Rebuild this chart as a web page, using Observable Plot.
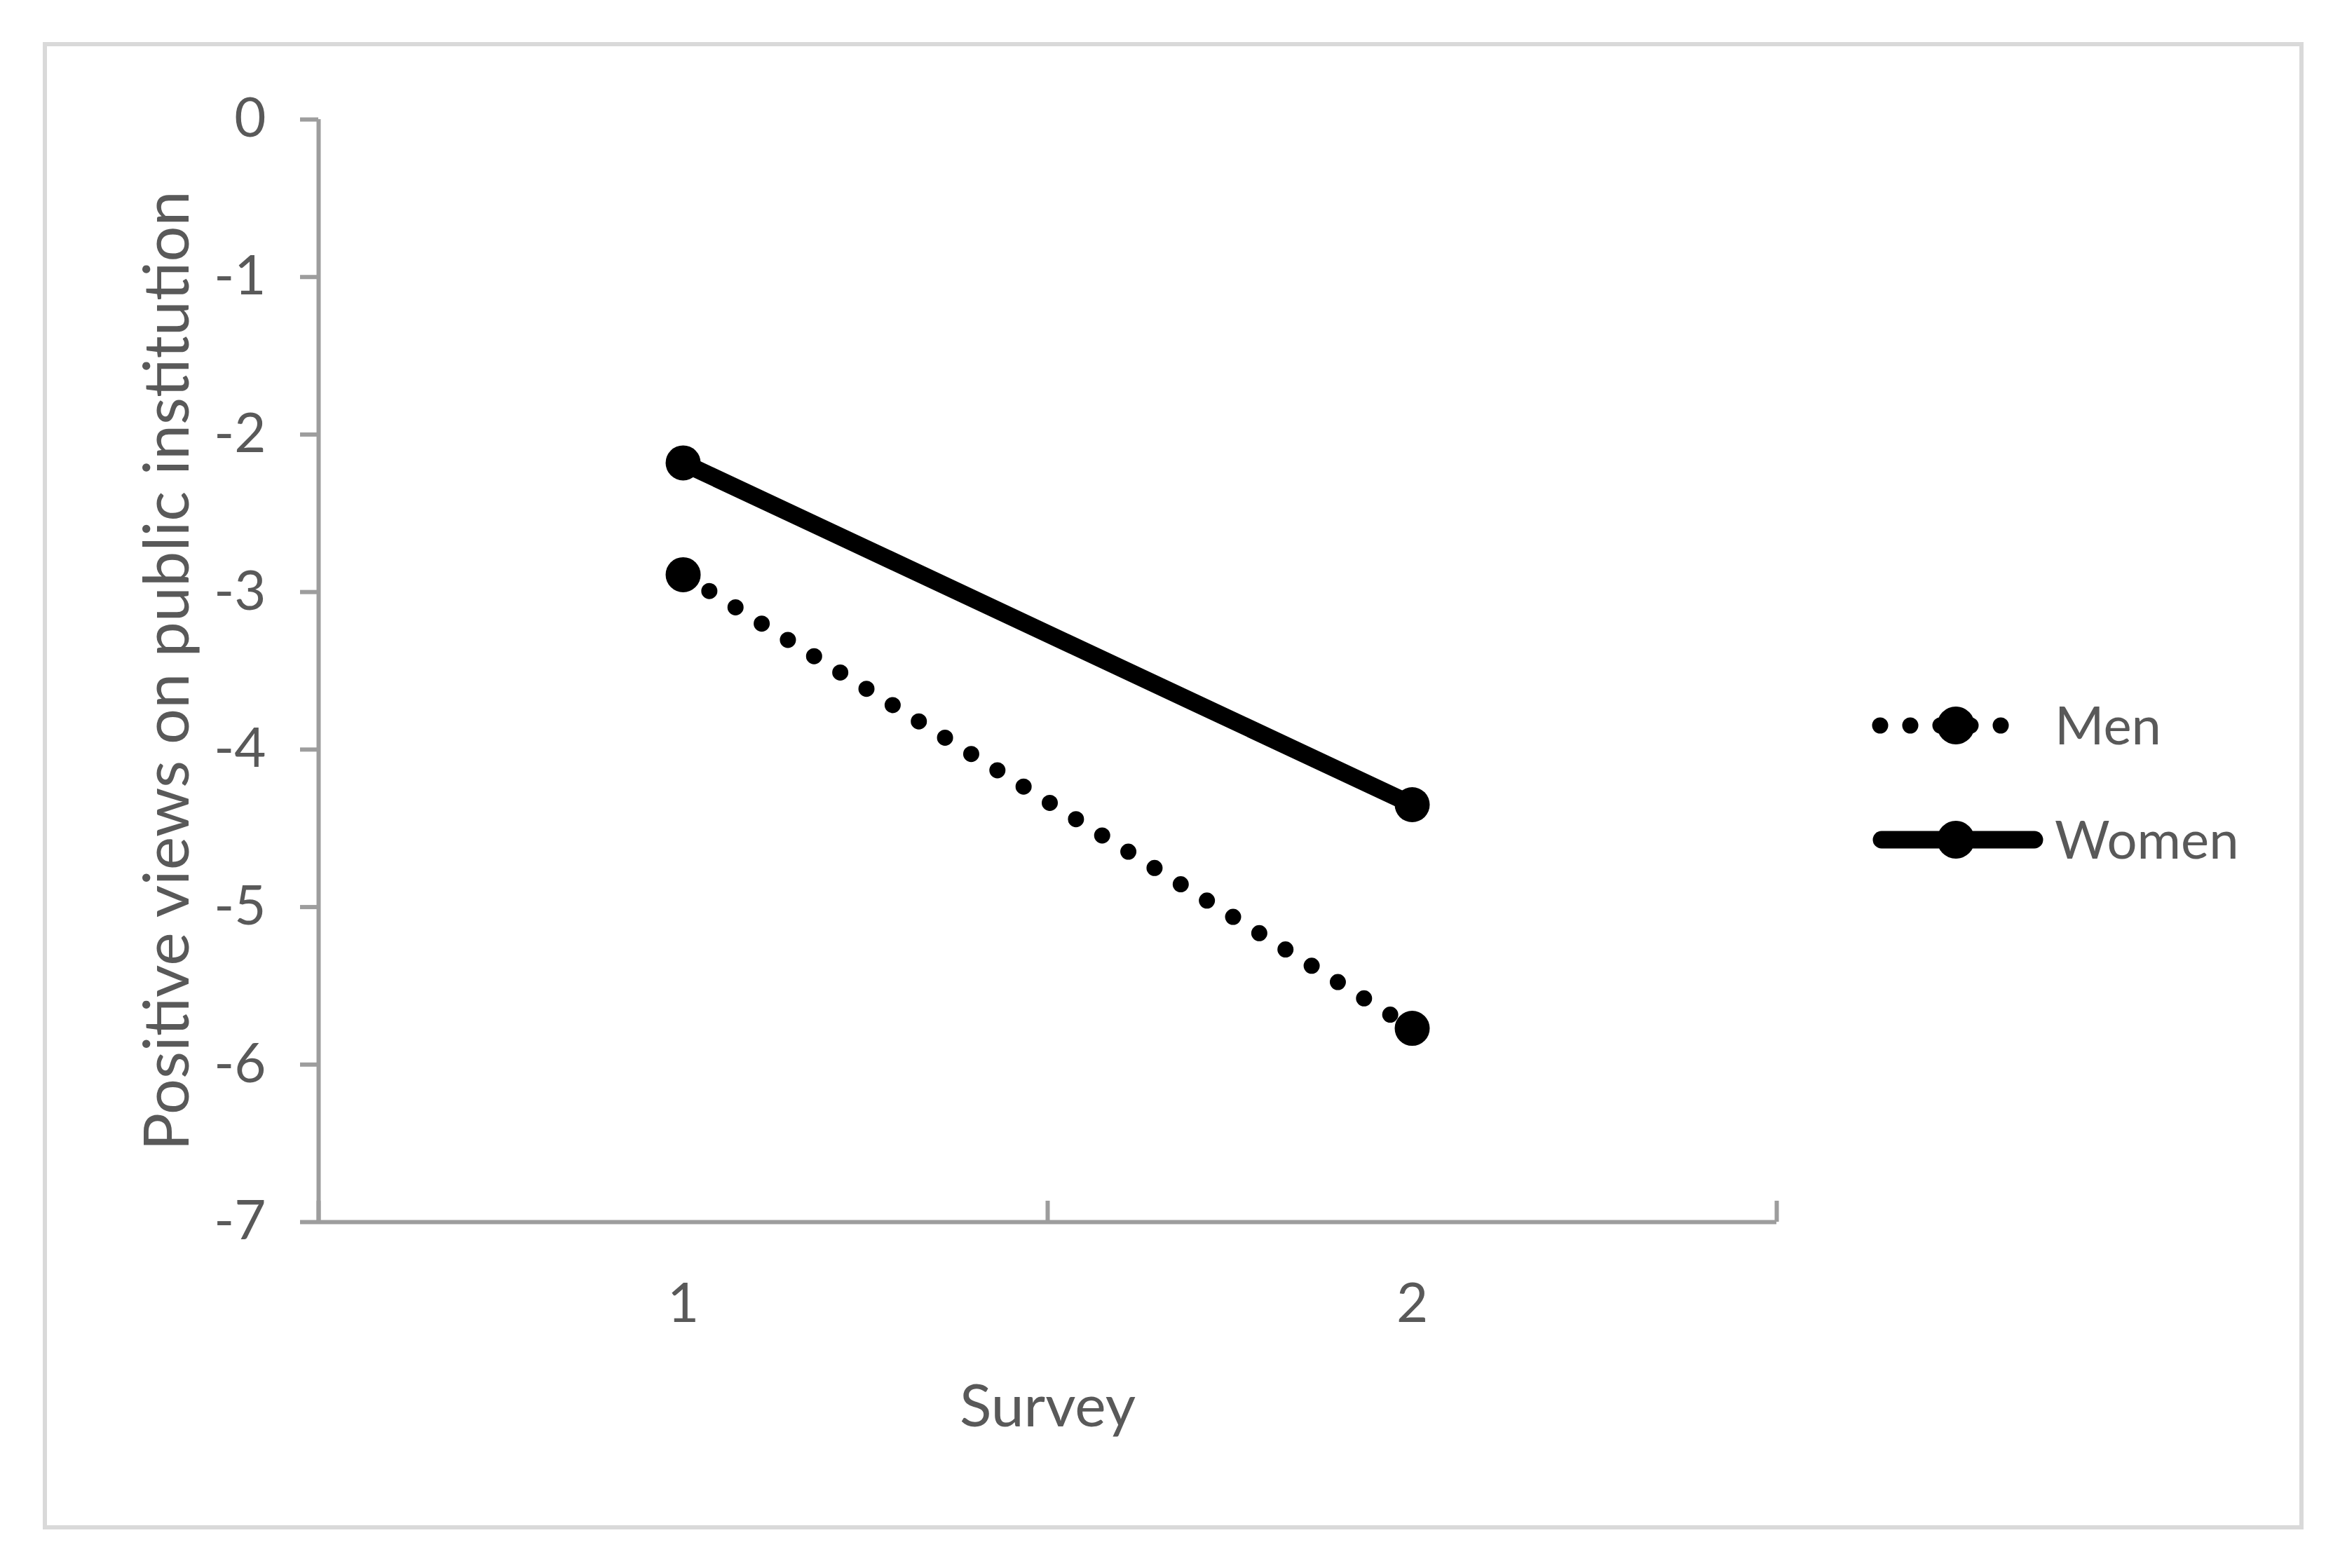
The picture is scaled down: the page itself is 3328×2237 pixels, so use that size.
<!DOCTYPE html>
<html><head><meta charset="utf-8">
<script src="https://cdn.jsdelivr.net/npm/d3@7"></script>
<script src="https://cdn.jsdelivr.net/npm/@observablehq/plot@0.6"></script>
<style>
html,body{margin:0;padding:0;background:#fff;}
#wrap{position:relative;width:3328px;height:2237px;overflow:hidden;font-family:Lato,sans-serif;background:#fff;}
#frame{position:absolute;left:61px;top:60px;width:3213px;height:2110px;border:6px solid #d9d9d9;}
#chart{position:absolute;left:0;top:0;}
#legend{position:absolute;left:0;top:0;}
</style></head><body>
<div id="wrap"><div id="frame"></div><div id="chart"></div><svg id="legend" width="3328" height="2237"></svg></div>
<script>
const surveys = [1, 2];
const men = [-2.89, -5.77];
const women = [-2.18, -4.35];
const seriesNames = ["Men", "Women"];
const yTicks = [0, -1, -2, -3, -4, -5, -6, -7];
const xBoundaries = [0.5, 1.5, 2.5];
const yTitle = "Positive views on public institution";
const xTitle = "Survey";

const menRows = surveys.map((s, i) => ({survey: s, value: men[i], series: seriesNames[0]}));
const womenRows = surveys.map((s, i) => ({survey: s, value: women[i], series: seriesNames[1]}));
const rows = menRows.concat(womenRows);

const axisColor = "#9d9d9d";
const textColor = "#595959";

const chart = Plot.plot({
  width: 3328, height: 2237,
  marginLeft: 454, marginRight: 794, marginTop: 170, marginBottom: 494,
  style: {fontFamily: "Lato, sans-serif", fontSize: "78px", color: textColor, background: "transparent", overflow: "visible"},
  x: {domain: [0.5, 2.5]},
  y: {domain: [-7, 0]},
  marks: [
    Plot.axisY({ticks: yTicks, tickSize: 26, tickPadding: 49, tickFormat: d => String(d), stroke: axisColor, strokeWidth: 6, label: null, fill: textColor}),
    Plot.axisX({ticks: xBoundaries, tickSize: -30, tickFormat: () => "", stroke: axisColor, strokeWidth: 6, label: null}),
    Plot.axisX({ticks: surveys, tickSize: 0, tickPadding: 87, tickFormat: d => String(d), label: null, fill: textColor}),
    Plot.ruleX([0.5], {stroke: axisColor, strokeWidth: 6}),
    Plot.ruleY([-7], {stroke: axisColor, strokeWidth: 6}),
    Plot.line(menRows, {x: "survey", y: "value", stroke: "black", strokeWidth: 23, strokeDasharray: "0,44", strokeLinecap: "round"}),
    Plot.line(womenRows, {x: "survey", y: "value", stroke: "black", strokeWidth: 25}),
    Plot.dot(rows, {x: "survey", y: "value", r: 25, fill: "black"}),
    Plot.text([yTitle], {frameAnchor: "left", text: d => d, rotate: -90, dx: -214, fontSize: 90, fill: textColor, lineAnchor: "middle", textAnchor: "middle"}),
    Plot.text([xTitle], {frameAnchor: "bottom", text: d => d, dy: 265, fontSize: 84, fill: textColor, lineAnchor: "middle"})
  ]
});
document.getElementById("chart").appendChild(chart);

// legend
const lg = d3.select("#legend");
const legendRows = [
  {name: seriesNames[0], y: 1035, width: 23, dash: "0,43"},
  {name: seriesNames[1], y: 1198, width: 25, dash: null}
];
legendRows.forEach(r => {
  const g = lg.append("g");
  const ln = g.append("line")
    .attr("x1", r.dash ? 2682 : 2684).attr("x2", r.dash ? 2897 : 2902)
    .attr("y1", r.y).attr("y2", r.y)
    .attr("stroke", "black").attr("stroke-width", r.width)
    .attr("stroke-linecap", "round");
  if (r.dash) ln.attr("stroke-dasharray", r.dash);
  g.append("circle").attr("cx", 2790).attr("cy", r.y).attr("r", 27).attr("fill", "black");
  g.append("text").attr("x", 2931).attr("y", r.y + 27)
    .attr("font-family", "Lato, sans-serif").attr("font-size", 76).attr("fill", textColor)
    .text(r.name);
});
</script>
</body></html>
